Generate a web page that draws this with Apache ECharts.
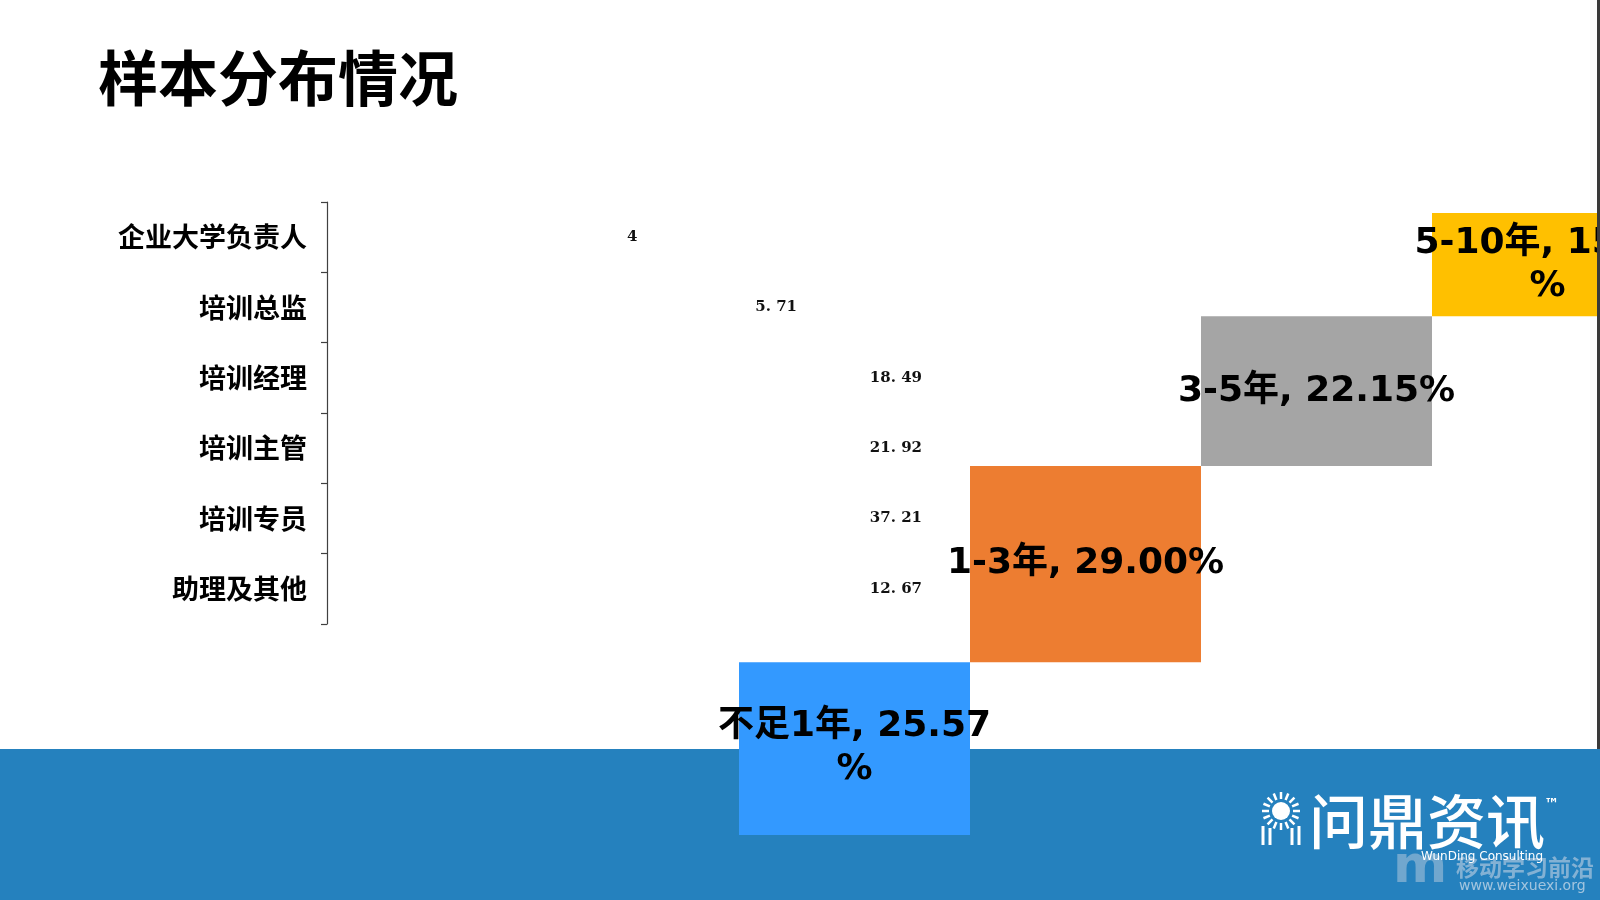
<!DOCTYPE html>
<html>
<head>
<meta charset="utf-8">
<script src="https://cdn.jsdelivr.net/npm/echarts@6/dist/echarts.min.js"></script>
<style>
html,body{margin:0;padding:0;background:#fff;}
#chart{width:1600px;height:900px;}
</style>
</head>
<body>
<div id="chart"></div>
<script>
// ---- data ----
const titleText = '样本分布情况';
const roleCategories = ['企业大学负责人', '培训总监', '培训经理', '培训主管', '培训专员', '助理及其他'];
const roleValues = [4, 5.71, 18.49, 21.92, 37.21, 12.67];
const tenureCategories = ['不足1年', '1-3年', '3-5年', '5-10年'];
const tenureValues = [25.57, 29.00, 22.15, 15.29];
const tenureColors = ['#3399FF', '#ED7D31', '#A5A5A5', '#FFC000'];

// ---- derived ----
const roleAxisMax = 8;
const tenureBase = [];
let acc = 0;
tenureValues.forEach(v => { tenureBase.push(acc); acc += v; });

const cjk = '"Noto Sans CJK SC", "Noto Sans", sans-serif';

const chart = echarts.init(document.getElementById('chart'), null, { renderer: 'canvas' });

// sun icon pieces
const sunCx = 1281, sunCy = 811;
const rays = [];
for (let i = 0; i < 16; i++) {
  const a = Math.PI * 2 * i / 16;
  rays.push({
    type: 'line', z: 5,
    shape: { x1: sunCx + Math.cos(a) * 12, y1: sunCy + Math.sin(a) * 12, x2: sunCx + Math.cos(a) * 19, y2: sunCy + Math.sin(a) * 19 },
    style: { stroke: '#fff', lineWidth: 2.5 }
  });
}

const option = {
  backgroundColor: '#ffffff',
  animation: false,
  title: {
    text: titleText,
    left: 93, top: 43,
    textStyle: { fontFamily: cjk, fontSize: 60, fontWeight: 'bold', color: '#000' }
  },
  grid: [
    { left: 327, top: 202, width: 600, height: 422, containLabel: false, outerBoundsMode: 'none' },
    { left: 739, top: 159, width: 924, height: 676, containLabel: false, outerBoundsMode: 'none' }
  ],
  xAxis: [
    { gridIndex: 0, type: 'value', min: 0, max: roleAxisMax, show: false },
    { gridIndex: 1, type: 'category', data: tenureCategories, show: false }
  ],
  yAxis: [
    {
      gridIndex: 0, type: 'category', data: roleCategories, inverse: true,
      axisLine: { show: true, lineStyle: { color: '#404040', width: 1.2 } },
      axisTick: { show: true, length: 6, lineStyle: { color: '#404040', width: 1.2 } },
      axisLabel: { margin: 20, fontFamily: cjk, fontSize: 27, fontWeight: 'bold', color: '#000' },
      splitLine: { show: false }
    },
    { gridIndex: 1, type: 'value', min: 0, max: 100, show: false }
  ],
  graphic: [
    { type: 'rect', z: 0, shape: { x: 0, y: 749, width: 1600, height: 151 }, style: { fill: '#2581BE' } },
    { type: 'circle', z: 5, shape: { cx: sunCx, cy: sunCy, r: 9 }, style: { fill: '#fff' } },
    ...rays,
    { type: 'line', z: 5, shape: { x1: 1263, y1: 826, x2: 1263, y2: 845 }, style: { stroke: '#fff', lineWidth: 3 } },
    { type: 'line', z: 5, shape: { x1: 1270, y1: 828, x2: 1270, y2: 845 }, style: { stroke: '#fff', lineWidth: 3 } },
    { type: 'line', z: 5, shape: { x1: 1292, y1: 828, x2: 1292, y2: 845 }, style: { stroke: '#fff', lineWidth: 3 } },
    { type: 'line', z: 5, shape: { x1: 1299, y1: 826, x2: 1299, y2: 845 }, style: { stroke: '#fff', lineWidth: 3 } },
    { type: 'text', z: 5, left: 1309, top: 792, style: { text: '问鼎资讯', fill: '#fff', fontFamily: cjk, fontSize: 59, fontWeight: 500 } },
    { type: 'text', z: 5, left: 1544, top: 798, style: { text: '™', fill: '#fff', fontFamily: '"DejaVu Sans", sans-serif', fontSize: 15, fontWeight: 'bold' } },
    { type: 'text', z: 6, left: 1421, top: 851, style: { text: 'WunDing Consulting', fill: '#fff', fontFamily: '"DejaVu Sans", sans-serif', fontSize: 12 } },
    { type: 'text', z: 5, left: 1393, top: 842, style: { text: 'm', fill: 'rgba(190,205,222,0.5)', fontFamily: '"DejaVu Sans", sans-serif', fontSize: 52, fontWeight: 'bold' } },
    { type: 'text', z: 5, left: 1456, top: 856, style: { text: '移动学习前沿', fill: 'rgba(195,210,226,0.6)', fontFamily: cjk, fontSize: 23, fontWeight: 'bold' } },
    { type: 'text', z: 5, left: 1459, top: 879, style: { text: 'www.weixuexi.org', fill: 'rgba(215,225,236,0.7)', fontFamily: '"DejaVu Sans", sans-serif', fontSize: 14 } },
    { type: 'rect', z: 100, shape: { x: 1597, y: 0, width: 3, height: 749 }, style: { fill: '#3a3a3a' } }
  ],
  series: [
    {
      type: 'bar', xAxisIndex: 0, yAxisIndex: 0,
      data: roleValues.map(v => ({
        value: v,
        label: { position: v > roleAxisMax ? 'insideRight' : 'right', distance: v > roleAxisMax ? 5 : 0 }
      })),
      barWidth: '60%',
      clip: true,
      itemStyle: { color: 'rgba(0,0,0,0)' },
      label: {
        show: true,
        fontFamily: '"DejaVu Serif", serif', fontSize: 15, fontWeight: 'bold', color: '#111',
        formatter: p => String(p.value).replace('.', '. ')
      },
      z: 3
    },
    {
      type: 'bar', xAxisIndex: 1, yAxisIndex: 1, stack: 'tenure',
      data: tenureBase,
      itemStyle: { color: 'rgba(0,0,0,0)' },
      barWidth: '100%', barCategoryGap: 0,
      silent: true, z: 2
    },
    {
      type: 'bar', xAxisIndex: 1, yAxisIndex: 1, stack: 'tenure',
      data: tenureValues.map((v, i) => ({ value: v, itemStyle: { color: tenureColors[i] } })),
      barWidth: '100%', barCategoryGap: 0,
      label: {
        show: true, position: 'inside',
        width: 290, overflow: 'breakAll', align: 'center',
        lineHeight: 43,
        fontFamily: '"DejaVu Sans", "Noto Sans CJK SC", sans-serif', fontSize: 36, fontWeight: 'bold', color: '#000',
        formatter: p => p.name + ', ' + p.value.toFixed(2) + '%'
      },
      z: 3
    }
  ]
};
chart.setOption(option);
</script>
</body>
</html>
